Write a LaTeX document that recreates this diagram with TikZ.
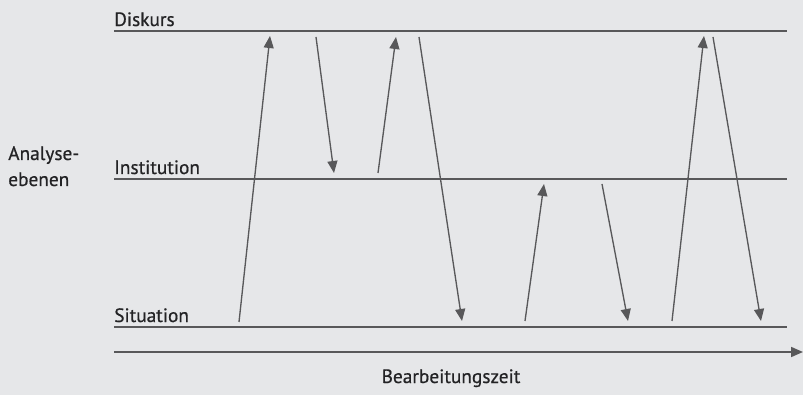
\documentclass[tikz,border=0pt]{standalone}
\usepackage{fontspec}
\setmainfont{PT Sans}
\newfontfamily\lblfont{PT Sans}[FakeBold=0.6]
\usetikzlibrary{arrows.meta}
\definecolor{bggray}{RGB}{230,231,233}
\definecolor{linegray}{RGB}{88,88,90}
\definecolor{textgray}{RGB}{35,35,37}
\tikzset{
  level/.style={draw=linegray, line width=1.3pt},
  move/.style={draw=linegray, line width=1pt, -{Triangle[length=9pt,width=7.5pt]}},
  lbl/.style={inner sep=0pt, text=textgray, font=\lblfont\fontsize{14.5}{17}\selectfont}
}
\begin{document}
\begin{tikzpicture}[x=0.75pt,y=0.75pt,yscale=-1,xscale=1]
%Background
\fill [bggray] (0,0) rectangle (803,395) ;
\useasboundingbox (0,0) rectangle (803,395) ;

%Level lines
\coordinate (dL) at (114,31) ; \coordinate (dR) at (787,31) ;
\coordinate (iL) at (114,179) ; \coordinate (iR) at (787,179) ;
\coordinate (sL) at (114,327) ; \coordinate (sR) at (787,327) ;
\draw [level] (dL) -- (dR) ;
\draw [level] (iL) -- (iR) ;
\draw [level] (sL) -- (sR) ;

%Time axis
\coordinate (tL) at (114,352) ; \coordinate (tR) at (803,352) ;
\draw [move, line width=1.3pt] (tL) -- (tR) ;

%Moves between levels
\coordinate (a1) at (239,322) ; \coordinate (b1) at (270,36) ;
\coordinate (a2) at (316,37) ; \coordinate (b2) at (334,173) ;
\coordinate (a3) at (378,173) ; \coordinate (b3) at (396,37) ;
\coordinate (a4) at (419,37) ; \coordinate (b4) at (462,321) ;
\coordinate (a5) at (525,321) ; \coordinate (b5) at (544,184) ;
\coordinate (a6) at (602,184) ; \coordinate (b6) at (628,321) ;
\coordinate (a7) at (672,321) ; \coordinate (b7) at (704,36) ;
\coordinate (a8) at (713,37) ; \coordinate (b8) at (761,321) ;
\foreach \i in {1,...,8}
  \draw [move] (a\i) -- (b\i) ;

% Text Node
\node (diskurs) [lbl, anchor=base west] at (114,26) {Diskurs} ;
\node (institution) [lbl, anchor=base west] at (114,174) {Institution} ;
\node (situation) [lbl, anchor=base west] at (114,322) {Situation} ;
\node (analyse) [lbl, anchor=base west] at (8,160) {Analyse-} ;
\node (ebenen) [lbl, anchor=base west] at (8,186) {ebenen} ;
\node (zeit) [lbl, anchor=base] at (451,383) {Bearbeitungszeit} ;

\end{tikzpicture}
\end{document}
